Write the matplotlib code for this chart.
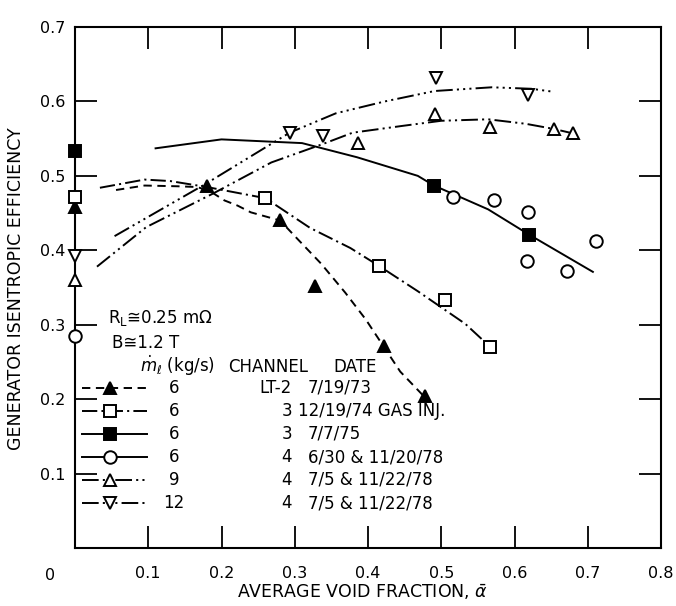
import matplotlib
matplotlib.use('Agg')
import matplotlib.pyplot as plt
from matplotlib.lines import Line2D

plt.rcParams['font.family'] = ['DejaVu Sans']
plt.rcParams['mathtext.fontset'] = 'dejavusans'
plt.rcParams['lines.scale_dashes'] = False

# ---- data ----
# LT-2, 7/19/73 (filled triangles, dashed fit)
lt2_x = [0.0, 0.18, 0.28, 0.327, 0.422, 0.478]
lt2_y = [0.458, 0.487, 0.441, 0.352, 0.271, 0.204]
lt2_fit_x = [0.056, 0.095, 0.14, 0.167, 0.185, 0.204, 0.222, 0.240, 0.280, 0.303, 0.336, 0.369, 0.397, 0.444, 0.480]
lt2_fit_y = [0.481, 0.487, 0.486, 0.485, 0.479, 0.467, 0.460, 0.451, 0.440, 0.416, 0.382, 0.343, 0.307, 0.237, 0.200]

# channel 3, 12/19/74 gas inj. (open squares, dash-dot fit)
ch3a_x = [0.0, 0.26, 0.415, 0.505, 0.567]
ch3a_y = [0.471, 0.470, 0.379, 0.333, 0.270]
ch3a_fit_x = [0.034, 0.095, 0.13, 0.18, 0.26, 0.321, 0.376, 0.415, 0.468, 0.533, 0.567]
ch3a_fit_y = [0.484, 0.495, 0.493, 0.485, 0.470, 0.430, 0.403, 0.379, 0.345, 0.301, 0.270]

# channel 3, 7/7/75 (filled squares, solid fit)
ch3b_x = [0.0, 0.49, 0.62]
ch3b_y = [0.534, 0.487, 0.421]
ch3b_fit_x = [0.11, 0.20, 0.31, 0.385, 0.468, 0.49, 0.564, 0.62, 0.707]
ch3b_fit_y = [0.537, 0.549, 0.544, 0.525, 0.500, 0.487, 0.455, 0.421, 0.371]

# channel 4, 6/30 & 11/20/78 (open circles)
ch4a_x = [0.0, 0.516, 0.572, 0.619, 0.617, 0.672, 0.711]
ch4a_y = [0.285, 0.471, 0.467, 0.451, 0.386, 0.372, 0.412]

# channel 4, 9 kg/s (open triangles, dash-dot-dot fit)
ch4b_x = [0.0, 0.386, 0.492, 0.566, 0.654, 0.680]
ch4b_y = [0.360, 0.544, 0.583, 0.565, 0.563, 0.557]
ch4b_fit_x = [0.03, 0.097, 0.188, 0.268, 0.339, 0.379, 0.446, 0.50, 0.564, 0.615, 0.654, 0.680]
ch4b_fit_y = [0.378, 0.431, 0.476, 0.518, 0.543, 0.558, 0.567, 0.574, 0.576, 0.570, 0.563, 0.557]

# channel 4, 12 kg/s (open inverted triangles, dash-dot-dot-dot fit)
ch4c_x = [0.0, 0.293, 0.338, 0.493, 0.618]
ch4c_y = [0.392, 0.558, 0.554, 0.632, 0.608]
ch4c_fit_x = [0.054, 0.178, 0.293, 0.356, 0.423, 0.491, 0.569, 0.623, 0.653]
ch4c_fit_y = [0.419, 0.489, 0.558, 0.584, 0.600, 0.614, 0.619, 0.617, 0.613]

flows = ['6', '6', '6', '6', '9', '12']
channels = ['LT-2', '3', '3', '4', '4', '4']
dates = ['7/19/73', '12/19/74 GAS INJ.', '7/7/75', '6/30 & 11/20/78',
         '7/5 & 11/22/78', '7/5 & 11/22/78']

x_ticks = [0.1, 0.2, 0.3, 0.4, 0.5, 0.6, 0.7, 0.8]
y_ticks = [0.1, 0.2, 0.3, 0.4, 0.5, 0.6, 0.7]

# ---- styles ----
dashed = (0, (6, 4))
dashdot = (0, (11, 3, 1.5, 3))
dashdotdot = (0, (12, 3, 1.5, 3, 1.5, 3))
dashdot3 = (0, (12, 3, 1.5, 3, 1.5, 3, 1.5, 3))

series = [
    (lt2_x, lt2_y, lt2_fit_x, lt2_fit_y, '^', 'black', dashed),
    (ch3a_x, ch3a_y, ch3a_fit_x, ch3a_fit_y, 's', 'white', dashdot),
    (ch3b_x, ch3b_y, ch3b_fit_x, ch3b_fit_y, 's', 'black', '-'),
    (ch4a_x, ch4a_y, None, None, 'o', 'white', '-'),
    (ch4b_x, ch4b_y, ch4b_fit_x, ch4b_fit_y, '^', 'white', dashdotdot),
    (ch4c_x, ch4c_y, ch4c_fit_x, ch4c_fit_y, 'v', 'white', dashdot3),
]

fig = plt.figure(figsize=(6.76, 6.06), dpi=100)
ax = fig.add_axes([75 / 676, 58 / 606, 586 / 676, 521 / 606])

for px, py, fx, fy, mk, fc, ls in series:
    if fx is not None:
        ax.plot(fx, fy, color='black', lw=1.4, linestyle=ls, zorder=2)
    ax.plot(px, py, linestyle='none', marker=mk, ms=9, mfc=fc, mec='black',
            mew=1.4, clip_on=False, zorder=3)

ax.set_xlim(0, 0.8)
ax.set_ylim(0, 0.7)
ax.set_xticks(x_ticks)
ax.set_xticklabels([f'{v:.1f}' for v in x_ticks])
ax.set_yticks(y_ticks)
ax.set_yticklabels([f'{v:.1f}' for v in y_ticks])
ax.tick_params(direction='in', length=16, width=1.3, top=True, right=True,
               labelsize=11.5)
ax.tick_params(axis='x', pad=13)
ax.tick_params(axis='y', pad=7)
for s in ax.spines.values():
    s.set_linewidth(1.5)
ax.annotate('0', xy=(0, 0), xycoords='data', xytext=(-18, -20),
            textcoords='offset points', ha='center', va='center', fontsize=11.5)


def fp(x, y):
    return x / 676, 1 - y / 606


fig.text(*fp(363, 592), r'AVERAGE VOID FRACTION, $\bar{\alpha}$',
         ha='center', va='center', fontsize=12.5)
fig.text(*fp(16, 289), 'GENERATOR ISENTROPIC EFFICIENCY',
         rotation=90, ha='center', va='center', fontsize=12.5)

fig.text(*fp(108, 318), r'R$_\mathrm{L}$≅0.25 m$\Omega$', ha='left', va='center', fontsize=12)
fig.text(*fp(112, 343), 'B≅1.2 T', ha='left', va='center', fontsize=12)
fig.text(*fp(140, 366), r'$\dot{m}_\ell$ (kg/s)', ha='left', va='center', fontsize=12)
fig.text(*fp(228, 367), 'CHANNEL', ha='left', va='center', fontsize=12)
fig.text(*fp(333, 367), 'DATE', ha='left', va='center', fontsize=12)

row_y = [388, 411, 434, 457, 480, 503]
for i, (px, py, fx, fy, mk, fc, ls) in enumerate(series):
    yy = row_y[i]
    x0, y0 = fp(82, yy)
    x1, _ = fp(147, yy)
    xm, _ = fp(110, yy)
    fig.add_artist(Line2D([x0, x1], [y0, y0], color='black', lw=1.4,
                          linestyle=ls, transform=fig.transFigure))
    fig.add_artist(Line2D([xm], [y0], linestyle='none', marker=mk, ms=9,
                          mfc=fc, mec='black', mew=1.4, transform=fig.transFigure))
    fig.text(*fp(174, yy), flows[i], ha='center', va='center', fontsize=12)
    fig.text(*fp(292, yy), channels[i], ha='right', va='center', fontsize=12)
    dx = 298 if dates[i].startswith('12') else 308
    fig.text(*fp(dx, yy), dates[i], ha='left', va='center', fontsize=12)

fig.savefig('out.png', dpi=100)
